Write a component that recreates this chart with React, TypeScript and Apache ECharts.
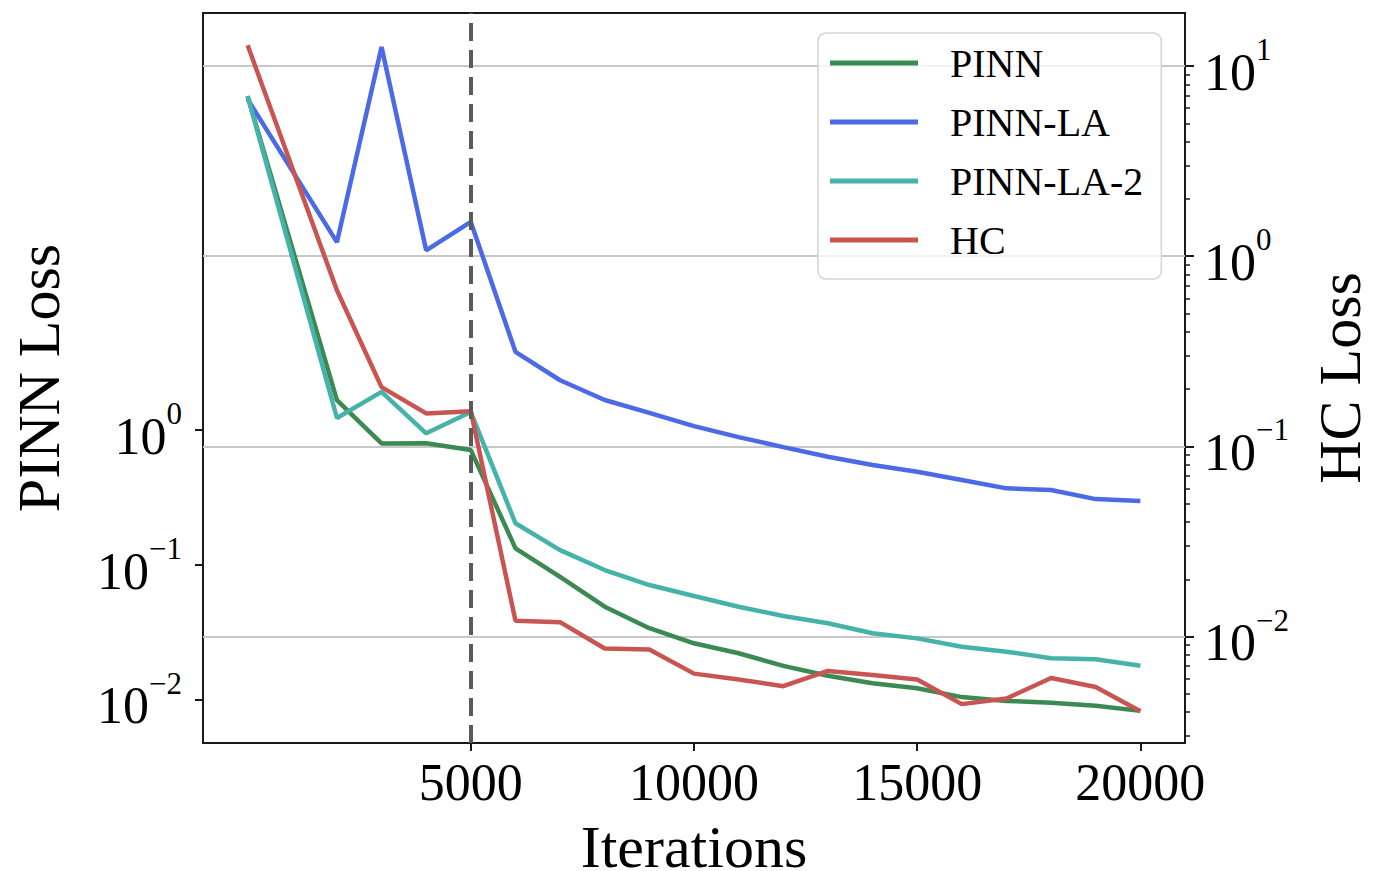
import React, { useEffect, useRef } from "react";
import * as echarts from "echarts";

const iterations = [0, 2000, 3000, 4000, 5000, 6000, 7000, 8000, 9000, 10000, 11000, 12000, 13000, 14000, 15000, 16000, 17000, 18000, 19000, 20000];
const pinnLoss = [298, 1.67, 0.796, 0.8, 0.711, 0.133, 0.0818, 0.0491, 0.034, 0.0263, 0.0222, 0.0179, 0.0151, 0.0133, 0.0122, 0.0105, 0.00984, 0.00955, 0.00906, 0.0083];
const pinnLaLoss = [283, 24.7, 690, 21.5, 34.9, 3.8, 2.34, 1.67, 1.34, 1.07, 0.887, 0.748, 0.634, 0.551, 0.491, 0.427, 0.37, 0.36, 0.308, 0.298];
const pinnLa2Loss = [298, 1.23, 1.92, 0.946, 1.36, 0.204, 0.129, 0.0918, 0.0711, 0.0589, 0.0491, 0.0419, 0.037, 0.0312, 0.0286, 0.0248, 0.0228, 0.0204, 0.02, 0.0179];
const hcLoss = [12.85, 0.662, 0.205, 0.149, 0.153, 0.0121, 0.0119, 0.00865, 0.00855, 0.00638, 0.00594, 0.00548, 0.00659, 0.00627, 0.00594, 0.00441, 0.00472, 0.00605, 0.00543, 0.00405];

const seriesNames = ["PINN", "PINN-LA", "PINN-LA-2", "HC"];
const xTicks = [5000, 10000, 15000, 20000];
const leftExponents = [-2, -1, 0];
const rightExponents = [-2, -1, 0, 1];
const switchIteration = 5000;

const X_MIN = -1000;
const X_MAX = 21000;
const LEFT_MIN = -2.319;
const LEFT_MAX = 3.091;
const RIGHT_MIN = -2.56;
const RIGHT_MAX = 1.279;

const FONT = "'Liberation Serif', 'Times New Roman', Times, serif";
const COLORS = ["#3b8a52", "#4c6ae6", "#46b3aa", "#c95552"];

const rightMinorTicks: number[] = [];
for (let e = -3; e <= 1; e++) {
  for (let k = 2; k <= 9; k++) {
    const v = e + Math.log10(k);
    if (v > RIGHT_MIN && v < RIGHT_MAX) rightMinorTicks.push(v);
  }
}

function toPoints(values: number[]) {
  return iterations.map((x, i) => [x, Math.log10(values[i])]);
}

function powLabel(v: number) {
  const e = Math.round(v);
  const s = e < 0 ? "\u2212" + Math.abs(e) : String(e);
  return `{b|10}{s|${s}}`;
}

const rich = {
  b: { fontSize: 52, lineHeight: 64, verticalAlign: "bottom", fontFamily: FONT, color: "#000" },
  s: { fontSize: 31, lineHeight: 31, verticalAlign: "top", fontFamily: FONT, color: "#000" },
};

export default function App() {
  const ref = useRef<HTMLDivElement>(null);

  useEffect(() => {
    if (!ref.current) return;
    const chart = echarts.init(ref.current, null, { renderer: "svg" });
    const axisLine = { show: true, onZero: false, lineStyle: { color: "#1a1a1a", width: 2 } };

    const lineSeries = (name: string, values: number[], idx: number, yAxisIndex: number, extra: any = {}) => ({
      name,
      type: "line",
      xAxisIndex: 0,
      yAxisIndex,
      data: toPoints(values),
      symbol: "none",
      showSymbol: false,
      lineStyle: { color: COLORS[idx], width: 4.5 },
      itemStyle: { color: COLORS[idx] },
      z: 2,
      ...extra,
    });

    chart.setOption({
      animation: false,
      backgroundColor: "#ffffff",
      textStyle: { fontFamily: FONT },
      grid: {
        left: 203,
        top: 13,
        right: 188,
        bottom: 128,
        containLabel: false,
        outerBoundsMode: "none",
        show: true,
        borderColor: "#1a1a1a",
        borderWidth: 2,
        backgroundColor: "transparent",
      },
      legend: {
        show: true,
        orient: "vertical",
        left: 818,
        top: 33,
        data: seriesNames,
        icon: "rect",
        itemWidth: 88,
        itemHeight: 5,
        itemGap: 19,
        padding: [10, 18, 19, 12],
        backgroundColor: "rgba(255,255,255,0.8)",
        borderColor: "#d4d4d4",
        borderWidth: 1.5,
        borderRadius: 8,
        textStyle: { fontSize: 40, lineHeight: 40, fontFamily: FONT, color: "#000", padding: [0, 0, 0, 27] },
      },
      xAxis: {
        type: "value",
        min: X_MIN,
        max: X_MAX,
        name: "Iterations",
        nameLocation: "middle",
        nameGap: 80,
        nameTextStyle: { fontSize: 60, lineHeight: 48, fontFamily: FONT, color: "#000" },
        axisLine,
        axisTick: { show: true, length: 8, inside: false, customValues: xTicks, lineStyle: { color: "#1a1a1a", width: 2 } },
        axisLabel: {
          show: true,
          customValues: xTicks,
          fontSize: 52,
          fontFamily: FONT,
          color: "#000",
          margin: 13,
          formatter: (v: number) => String(Math.round(v)),
        },
        splitLine: { show: false },
      },
      yAxis: [
        {
          type: "value",
          position: "left",
          min: LEFT_MIN,
          max: LEFT_MAX,
          name: "PINN Loss",
          nameLocation: "middle",
          nameRotate: 90,
          nameGap: 134,
          nameTextStyle: { fontSize: 60, fontFamily: FONT, color: "#000" },
          axisLine,
          axisTick: { show: true, length: 8, customValues: leftExponents, lineStyle: { color: "#1a1a1a", width: 2 } },
          axisLabel: { show: true, customValues: leftExponents, margin: 21, formatter: powLabel, rich },
          splitLine: { show: false },
        },
        {
          type: "value",
          position: "right",
          min: RIGHT_MIN,
          max: RIGHT_MAX,
          name: "HC Loss",
          nameLocation: "middle",
          nameRotate: 90,
          nameGap: 125,
          nameTextStyle: { fontSize: 60, fontFamily: FONT, color: "#000" },
          axisLine,
          axisTick: { show: true, length: 9, customValues: rightExponents, lineStyle: { color: "#1a1a1a", width: 2 } },
          axisLabel: { show: true, customValues: rightExponents, margin: 19, formatter: powLabel, rich },
          splitLine: { show: false },
        },
        {
          type: "value",
          position: "right",
          min: RIGHT_MIN,
          max: RIGHT_MAX,
          axisLine: { show: false, onZero: false },
          axisTick: { show: true, length: 5, customValues: rightMinorTicks, lineStyle: { color: "#1a1a1a", width: 1.5 } },
          axisLabel: { show: false },
          splitLine: { show: false },
        },
      ],
      series: [
        lineSeries(seriesNames[0], pinnLoss, 0, 0, {
          markLine: {
            silent: true,
            symbol: ["none", "none"],
            label: { show: false },
            z: 3,
            lineStyle: { color: "#5a5a5a", width: 4, type: [18, 9] },
            data: [{ xAxis: switchIteration }],
          },
        }),
        lineSeries(seriesNames[1], pinnLaLoss, 1, 0),
        lineSeries(seriesNames[2], pinnLa2Loss, 2, 0),
        lineSeries(seriesNames[3], hcLoss, 3, 1, {
          markLine: {
            silent: true,
            symbol: ["none", "none"],
            label: { show: false },
            z: 1,
            lineStyle: { color: "#c8c8c8", width: 2, type: "solid" },
            data: rightExponents.map((e) => ({ yAxis: e })),
          },
        }),
      ],
    });

    return () => {
      chart.dispose();
    };
  }, []);

  return (
    <div
      ref={ref}
      style={{ position: "fixed", left: 0, top: 0, width: 1373, height: 871, background: "#fff" }}
    />
  );
}
